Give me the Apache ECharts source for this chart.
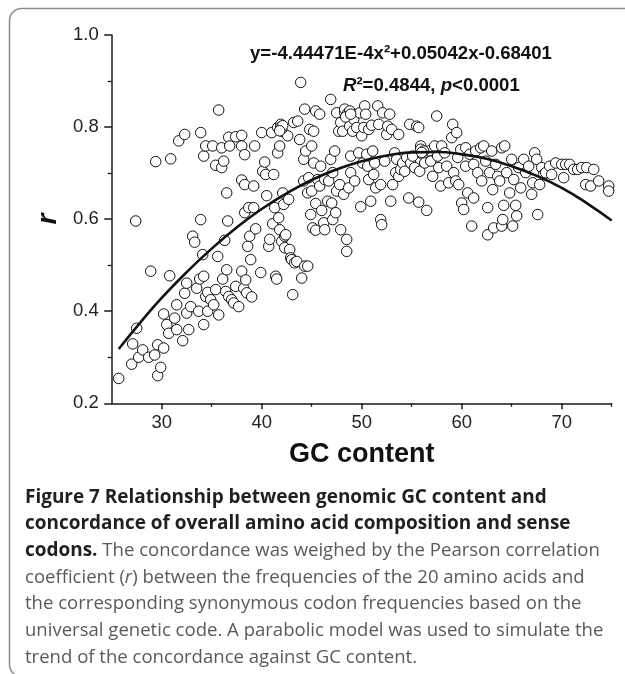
<!DOCTYPE html>
<html><head><meta charset="utf-8">
<script src="https://cdn.jsdelivr.net/npm/echarts@6/dist/echarts.min.js"></script>
<style>html,body{margin:0;padding:0;background:#fff}#c{width:625px;height:674px}</style>
</head><body><div id="c"></div>
<script>
// GC content (x) and Pearson r (y) for each genome
const gcContent = [
25.7,27.1,27.0,27.5,27.4,27.7,28.1,28.7,28.9,29.4,29.3,29.6,29.6,29.9,30.2,30.2,30.5,30.7,30.8,30.9,
31.3,31.5,31.7,31.5,32.1,32.3,32.3,32.5,32.5,32.7,33.1,33.3,32.9,33.5,33.7,33.8,33.9,33.9,34.1,34.2,
34.2,34.2,34.4,34.4,34.6,34.6,34.9,35.1,35.2,35.4,35.6,35.7,35.7,35.4,36.0,36.0,36.1,36.2,36.3,36.4,
36.5,36.5,36.6,36.7,36.7,36.8,37.0,37.2,37.4,37.4,37.7,38.0,38.0,38.0,38.0,38.2,38.3,38.3,38.3,38.4,
38.5,38.6,38.7,38.8,38.9,39.0,39.2,39.2,39.3,39.4,39.9,40.0,40.1,40.3,40.4,40.5,40.7,40.8,41.0,41.1,
41.2,41.3,41.4,41.5,41.6,41.6,41.7,41.8,41.8,41.9,42.0,42.0,42.1,42.2,42.3,42.3,42.4,42.6,42.7,42.8,
42.9,43.0,43.1,43.2,43.3,43.5,43.6,43.8,43.9,44.0,44.2,44.2,44.3,44.3,44.4,44.6,44.6,44.7,44.8,44.9,
45.0,45.0,45.1,45.2,45.2,45.4,45.4,45.4,45.6,45.8,45.8,45.9,46.0,46.2,46.3,46.3,46.6,46.7,46.9,46.9,
47.0,47.1,47.1,47.3,47.4,47.5,47.5,47.7,47.8,47.9,47.9,48.1,48.2,48.3,48.3,48.5,48.5,48.6,48.7,48.8,
48.9,48.9,49.0,49.1,49.2,49.3,49.5,49.7,49.8,49.9,50.0,50.1,50.2,50.3,50.4,50.5,50.6,50.7,50.7,50.9,
51.0,51.1,51.2,51.3,51.4,51.6,51.7,51.9,51.9,52.0,52.1,52.3,52.5,52.6,52.8,52.9,53.0,53.1,53.3,53.4,
53.5,53.7,53.7,53.9,54.1,54.3,54.5,54.7,54.8,54.9,55.1,55.3,55.5,55.7,55.7,55.8,55.9,56.1,56.3,56.5,
56.7,56.9,57.1,57.3,57.5,57.6,57.7,57.9,58.0,58.3,58.5,58.7,59.0,59.1,59.2,59.4,59.5,59.6,59.7,59.9,
60.0,60.2,60.4,60.4,60.6,60.8,61.0,61.2,61.2,61.4,61.6,61.9,62.0,62.2,62.4,62.6,62.6,62.8,63.0,63.1,
63.2,63.4,63.6,63.8,64.0,64.0,64.1,64.2,64.3,64.5,64.8,65.0,65.1,65.2,65.4,65.5,65.7,65.9,66.2,66.4,
66.7,67.0,67.1,67.3,67.5,67.6,67.8,68.0,68.2,68.4,68.8,69.0,69.4,70.0,70.2,70.4,70.8,71.2,71.6,72.0,
72.4,72.5,72.9,73.2,73.7,74.7,74.7,
41.9,42.0,42.1,41.8,48.6,48.8,48.4,48.9,55.9,56.2,56.0
];
const rValues = [
0.254,0.329,0.285,0.363,0.596,0.300,0.316,0.300,0.487,0.725,0.305,0.327,0.260,0.278,0.394,0.320,0.371,0.352,0.477,0.731,
0.385,0.414,0.770,0.360,0.336,0.439,0.784,0.396,0.461,0.360,0.563,0.550,0.410,0.450,0.400,0.470,0.788,0.599,0.523,0.737,
0.371,0.476,0.432,0.759,0.400,0.441,0.425,0.759,0.414,0.447,0.519,0.392,0.837,0.717,0.755,0.712,0.470,0.726,0.554,0.443,
0.657,0.490,0.596,0.432,0.778,0.759,0.425,0.418,0.779,0.454,0.410,0.782,0.685,0.487,0.759,0.450,0.675,0.740,0.614,0.468,
0.440,0.541,0.625,0.563,0.512,0.431,0.672,0.625,0.759,0.579,0.484,0.788,0.704,0.724,0.697,0.651,0.541,0.556,0.788,0.590,
0.697,0.625,0.476,0.470,0.744,0.799,0.603,0.759,0.577,0.806,0.791,0.552,0.657,0.632,0.538,0.563,0.566,0.781,0.643,0.534,
0.516,0.512,0.436,0.810,0.505,0.508,0.813,0.773,0.897,0.472,0.683,0.730,0.839,0.498,0.748,0.657,0.498,0.690,0.795,0.610,
0.759,0.661,0.581,0.791,0.722,0.835,0.634,0.576,0.686,0.672,0.828,0.715,0.619,0.592,0.686,0.577,0.639,0.683,0.860,0.730,
0.635,0.701,0.599,0.748,0.614,0.831,0.661,0.791,0.675,0.810,0.577,0.791,0.654,0.831,0.839,0.556,0.530,0.824,0.668,0.802,
0.737,0.701,0.831,0.791,0.817,0.683,0.799,0.744,0.831,0.627,0.781,0.722,0.799,0.846,0.828,0.741,0.715,0.686,0.795,0.639,
0.804,0.748,0.697,0.722,0.668,0.846,0.806,0.675,0.599,0.588,0.831,0.726,0.784,0.802,0.828,0.639,0.795,0.675,0.744,0.701,
0.730,0.784,0.693,0.708,0.722,0.704,0.734,0.646,0.806,0.722,0.737,0.712,0.802,0.799,0.637,0.704,0.759,0.741,0.722,0.619,
0.748,0.726,0.693,0.759,0.824,0.737,0.712,0.672,0.759,0.744,0.715,0.679,0.777,0.806,0.701,0.683,0.788,0.734,0.675,0.751,
0.635,0.621,0.715,0.755,0.657,0.741,0.585,0.646,0.719,0.748,0.701,0.755,0.683,0.759,0.726,0.625,0.566,0.701,0.748,0.664,
0.581,0.719,0.693,0.683,0.755,0.585,0.599,0.630,0.759,0.701,0.657,0.730,0.585,0.686,0.630,0.607,0.712,0.668,0.730,0.701,
0.715,0.654,0.679,0.744,0.730,0.610,0.675,0.712,0.697,0.701,0.715,0.697,0.722,0.719,0.690,0.719,0.719,0.708,0.708,0.712,
0.675,0.712,0.672,0.708,0.683,0.672,0.661,
0.800,0.796,0.803,0.792,0.830,0.835,0.822,0.828,0.752,0.748,0.745
];
// fitted parabola as drawn
const curveX = [25.7,28,30,32.5,35,37.5,40,42.5,45,47.5,50,52.5,55,57.5,60,62.5,65,67.5,70,72.5,75];
const curveY = [0.318,0.379,0.429,0.485,0.536,0.582,0.622,0.656,0.685,0.708,0.726,0.738,0.745,0.746,0.741,0.731,0.715,0.694,0.668,0.635,0.597];
const xMajorTicks = [30,40,50,60,70];
const xMinorTicks = [35,45,55,65,75];
const yMajorTicks = [0.2,0.4,0.6,0.8,1.0];
const yMinorTicks = [0.3,0.5,0.7,0.9];
const xName = 'GC content';
const yName = 'r';
const eqText = 'y=-4.44471E-4x²+0.05042x-0.68401';
const captionLines = [
  '{b|Figure 7 Relationship between genomic GC content and}',
  '{b|concordance of overall amino acid composition and sense}',
  '{b|codons.}{n| The concordance was weighed by the Pearson correlation}',
  '{n|coefficient (}{ni|r}{n|) between the frequencies of the 20 amino acids and}',
  '{n|the corresponding synonymous codon frequencies based on the}',
  '{n|universal genetic code. A parabolic model was used to simulate the}',
  '{n|trend of the concordance against GC content.}'
];

// font-size fitting helpers (layout only)
const cv = document.createElement('canvas').getContext('2d');
function fitSize(text, weight, family, target) {
  cv.font = weight + ' 100px ' + family;
  return 100 * target / cv.measureText(text).width;
}
const capFam = '"Open Sans"';
const capN = fitSize('universal genetic code. A parabolic model was used to simulate the', 'normal', capFam, 579);
const capB = fitSize('Figure 7 Relationship between genomic GC content and', 'bold', capFam, 522);
const eqSize = fitSize(eqText, 'bold', '"Liberation Sans"', 302);

const axisColor = '#1a1a1a';
const labelFont = '"Liberation Sans", Arial, sans-serif';
const chart = echarts.init(document.getElementById('c'), null, {renderer: 'canvas'});
const grid = {left: 111.7, right: 13.3, top: 35, bottom: 270.7};
chart.setOption({
  animation: false,
  backgroundColor: '#fff',
  grid: grid,
  xAxis: [{
    type: 'value', min: 25, max: 75, position: 'bottom',
    axisLine: {onZero: false, lineStyle: {color: axisColor, width: 1.5}},
    axisTick: {show: true, customValues: xMajorTicks, length: 6, lineStyle: {color: axisColor, width: 1.5}},
    axisLabel: {customValues: xMajorTicks, fontSize: 18.5, color: '#222', fontFamily: labelFont, margin: 10},
    splitLine: {show: false},
    name: xName, nameLocation: 'middle', nameGap: 38,
    nameTextStyle: {fontSize: 27, fontWeight: 'bold', color: '#111', fontFamily: labelFont, lineHeight: 27}
  }, {
    type: 'value', min: 25, max: 75, position: 'bottom',
    axisLine: {show: false, onZero: false},
    axisTick: {show: true, customValues: xMinorTicks, length: 3.5, lineStyle: {color: axisColor, width: 1.3}},
    axisLabel: {show: false}, splitLine: {show: false}
  }],
  yAxis: [{
    type: 'value', min: 0.2, max: 1.0, position: 'left',
    axisLine: {show: true, onZero: false, lineStyle: {color: axisColor, width: 1.5}},
    axisTick: {show: true, customValues: yMajorTicks, length: 7.5, lineStyle: {color: axisColor, width: 1.5}},
    axisLabel: {customValues: yMajorTicks, fontSize: 18.5, color: '#222', fontFamily: labelFont, margin: 13,
      formatter: v => v.toFixed(1)},
    splitLine: {show: false},
    name: yName, nameLocation: 'middle', nameGap: 46,
    nameTextStyle: {fontSize: 28, fontWeight: 'bold', fontStyle: 'italic', color: '#111', fontFamily: labelFont, lineHeight: 28}
  }, {
    type: 'value', min: 0.2, max: 1.0, position: 'left',
    axisLine: {show: false, onZero: false},
    axisTick: {show: true, customValues: yMinorTicks, length: 4, lineStyle: {color: axisColor, width: 1.3}},
    axisLabel: {show: false}, splitLine: {show: false}
  }],
  series: [{
    type: 'scatter', xAxisIndex: 0, yAxisIndex: 0,
    data: gcContent.map((x, i) => [x, rValues[i]]),
    symbol: 'circle', symbolSize: 10.5,
    itemStyle: {color: '#fff', borderColor: '#111', borderWidth: 1, opacity: 1},
    z: 2
  }, {
    type: 'line', xAxisIndex: 0, yAxisIndex: 0,
    data: curveX.map((x, i) => [x, curveY[i]]),
    smooth: true, showSymbol: false, symbol: 'none',
    lineStyle: {color: '#111', width: 2.6},
    z: 3
  }],
  graphic: [{
    type: 'rect', silent: true,
    shape: {x: 9.5, y: 8.5, width: 720, height: 668, r: 12},
    style: {fill: 'none', stroke: '#8c8c8c', lineWidth: 1.5}
  }, {
    type: 'text', left: 250, top: 44,
    style: {text: eqText, font: 'bold ' + eqSize.toFixed(2) + 'px "Liberation Sans"', fill: '#111'}
  }, {
    type: 'text', left: 343, top: 76,
    style: {
      text: '{i|R}{t|²=0.4844, }{i|p}{t|<0.0001}',
      rich: {
        i: {fontSize: eqSize, fontWeight: 'bold', fontStyle: 'italic', fontFamily: 'Liberation Sans', fill: '#111'},
        t: {fontSize: eqSize, fontWeight: 'bold', fontFamily: 'Liberation Sans', fill: '#111'}
      }
    }
  }, {
    type: 'text', left: 25, top: 484,
    style: {
      text: captionLines.join('\n'),
      lineHeight: 26.7,
      rich: {
        b: {fontSize: capB, fontWeight: 'bold', fontFamily: 'Open Sans', fill: '#231f20', lineHeight: 26.7},
        n: {fontSize: capN, fontFamily: 'Open Sans', fill: '#5a5a5a', lineHeight: 26.7},
        ni: {fontSize: capN, fontStyle: 'italic', fontFamily: 'Open Sans', fill: '#5a5a5a', lineHeight: 26.7}
      }
    }
  }]
});
</script>
</body></html>
